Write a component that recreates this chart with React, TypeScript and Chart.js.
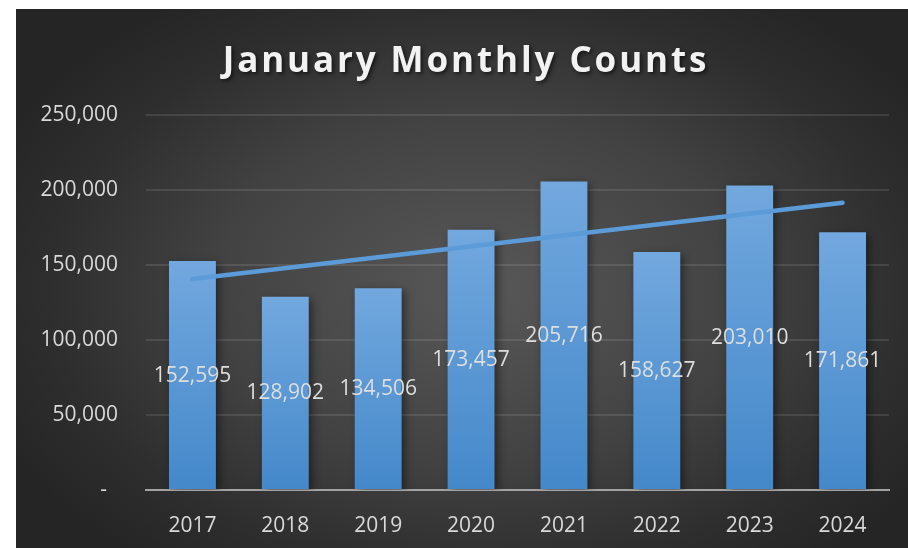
import React, { useEffect, useRef } from "react";
import { Chart, registerables } from "chart.js";

Chart.register(...registerables);

const titleText = "January Monthly Counts";
const categories = ["2017", "2018", "2019", "2020", "2021", "2022", "2023", "2024"];
const counts = [152595, 128902, 134506, 173457, 205716, 158627, 203010, 171861];
// linear trendline end points
const trend = [140700, null, null, null, null, null, null, 191500];
const yTicksMax = 250000;
const yTickStep = 50000;

const W = 892;
const H = 539;

export default function App() {
  const ref = useRef<HTMLCanvasElement | null>(null);

  useEffect(() => {
    if (!ref.current) return;

    const barShadow = {
      id: "barShadow",
      beforeDatasetDraw(chart: any, args: any) {
        if (args.index === 0) {
          const c = chart.ctx;
          c.save();
          c.shadowColor = "rgba(0,0,0,0.45)";
          c.shadowBlur = 8;
          c.shadowOffsetX = 3;
          c.shadowOffsetY = 3;
        }
      },
      afterDatasetDraw(chart: any, args: any) {
        if (args.index === 0) chart.ctx.restore();
      },
    };

    const valueLabels = {
      id: "valueLabels",
      afterDatasetsDraw(chart: any) {
        const c = chart.ctx;
        const meta = chart.getDatasetMeta(0);
        const ys = chart.scales.y;
        c.save();
        c.font = '21px "Open Sans"';
        c.fillStyle = "#dedede";
        c.textAlign = "center";
        c.textBaseline = "middle";
        meta.data.forEach((bar: any, i: number) => {
          c.fillText(counts[i].toLocaleString("en-US"), bar.x, ys.getPixelForValue(counts[i] / 2));
        });
        c.restore();
      },
    };

    const fancyTitle = {
      id: "fancyTitle",
      afterDraw(chart: any) {
        const c = chart.ctx;
        c.save();
        c.font = 'bold 35px "Open Sans"';
        (c as any).letterSpacing = "2.9px";
        c.fillStyle = "#f2f2f2";
        c.textAlign = "center";
        c.textBaseline = "alphabetic";
        c.shadowColor = "rgba(0,0,0,0.6)";
        c.shadowBlur = 4;
        c.shadowOffsetX = 2;
        c.shadowOffsetY = 2;
        c.fillText(titleText, 450, 63);
        c.restore();
      },
    };

    const chart = new Chart(ref.current, {
      type: "bar",
      data: {
        labels: categories,
        datasets: [
          {
            type: "bar",
            data: counts,
            order: 2,
            categoryPercentage: 1,
            barPercentage: 0.505,
            borderWidth: 0,
            backgroundColor: (ctx: any) => {
              const ch = ctx.chart;
              const area = ch.chartArea;
              if (!area || ctx.type !== "data") return "#5b9bd5";
              const top = ch.scales.y.getPixelForValue(ctx.raw);
              const g = ch.ctx.createLinearGradient(0, top, 0, area.bottom);
              g.addColorStop(0, "#72a8de");
              g.addColorStop(1, "#4488ca");
              return g;
            },
          } as any,
          {
            type: "line",
            data: trend,
            order: 1,
            spanGaps: true,
            borderColor: "#5a9bd8",
            borderWidth: 4.5,
            borderCapStyle: "round",
            pointRadius: 0,
            tension: 0,
          } as any,
        ],
      },
      options: {
        responsive: false,
        animation: false,
        devicePixelRatio: 1,
        layout: { padding: { top: 106, right: 19, left: 0, bottom: 0 } },
        plugins: {
          legend: { display: false },
          title: { display: false },
          tooltip: { enabled: false },
        },
        scales: {
          x: {
            grid: { display: false },
            border: { display: true, color: "#a3a3a3", width: 2 },
            ticks: {
              color: "#d9d9d9",
              font: { family: "Open Sans", size: 21 },
              padding: 15,
              maxRotation: 0,
            },
            afterFit: (s: any) => {
              s.height = 58;
            },
          },
          y: {
            min: 0,
            max: yTicksMax,
            border: { display: false },
            grid: { color: "rgba(255,255,255,0.1)", lineWidth: 2, drawTicks: false },
            ticks: {
              stepSize: yTickStep,
              color: "#d9d9d9",
              font: { family: "Open Sans", size: 21 },
              padding: 28,
              callback: (v: any) => (Number(v) === 0 ? "-  " : Number(v).toLocaleString("en-US")),
            },
            afterFit: (s: any) => {
              s.width = 130;
            },
          },
        },
      },
      plugins: [barShadow, valueLabels, fancyTitle],
    });

    return () => chart.destroy();
  }, []);

  return (
    <div
      style={{
        position: "absolute",
        left: 16,
        top: 9,
        width: W,
        height: H,
        background:
          "radial-gradient(ellipse 60% 65% at 52% 52%, #585858 0%, #424242 50%, #2e2e2e 80%, #252525 100%)",
      }}
    >
      <canvas ref={ref} width={W} height={H} style={{ display: "block" }} />
    </div>
  );
}
